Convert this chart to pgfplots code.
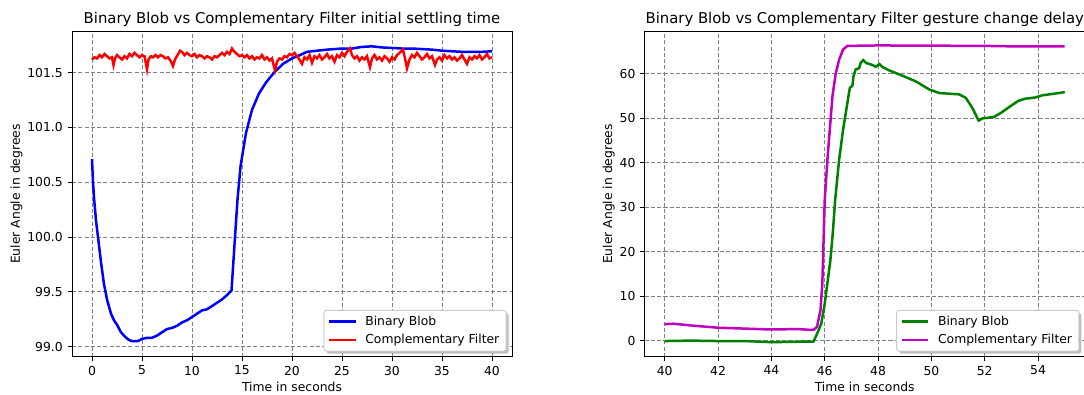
\documentclass[border=0pt]{standalone}
\usepackage{pgfplots}
\pgfplotsset{compat=1.18}
\usepackage{fontspec}
\setmainfont{DejaVu Sans}
\usetikzlibrary{shadows}
\definecolor{mplgreen}{rgb}{0,0.5,0}
\definecolor{mplmag}{rgb}{0.75,0,0.75}
\pgfplotsset{
  mystyle/.style={
    scale only axis, width=316.8pt, height=234.7pt,
    axis line style={line width=0.7pt, black},
    tick align=outside, major tick length=3.1pt,
    tick style={line width=0.7pt, black},
    tick pos=left,
    grid=major,
    grid style={gray, line width=0.7pt, dash pattern=on 3pt off 1.5pt},
    tick label style={font=\fontsize{8.9}{10.7}\selectfont},
    yticklabel style={inner sep=0pt, xshift=-3.4pt},
    xticklabel style={inner sep=0pt, yshift=-3.1pt},
    label style={font=\fontsize{8.9}{10.7}\selectfont},
    xlabel style={at={(axis description cs:0.5,0)}, anchor=base, yshift=-25.2pt},
    title style={font=\fontsize{10.7}{12.8}\selectfont, anchor=base, at={(0.5,1)}, yshift=-0.6pt, inner sep=0pt},
    /pgf/number format/assume math mode=true,
    legend style={at={(1,0)}, anchor=south east, xshift=-3.8pt, yshift=3.8pt,
      font=\fontsize{8.9}{10.7}\selectfont, draw=black!20, line width=0.7pt, rounded corners=2pt, fill=white,
      drop shadow={shadow xshift=1.8pt, shadow yshift=-1.8pt, fill=gray, opacity=0.5},
      inner xsep=3pt, inner ysep=2.5pt, row sep=1.9pt,
      nodes={inner xsep=2pt, inner ysep=1.5pt}},
    legend cell align=left,
    legend image code/.code={\begin{scope}[#1]
      \pgfpathmoveto{\pgfpointorigin}\pgfpathlineto{\pgfpoint{19pt}{0pt}}\pgfusepath{stroke}
      \end{scope}\path (23pt,0pt);},
  }
}
\begin{document}
\begin{tikzpicture}
\useasboundingbox (0,0) rectangle (780.48pt,-283.68pt);
\begin{axis}[mystyle, at={(51.84pt,-22.32pt)}, anchor=north west,
  title={Binary Blob vs Complementary Filter initial settling time},
  xlabel={Time in seconds}, ylabel={Euler Angle in degrees},
  xmin=-2, xmax=42, ymin=98.905, ymax=101.88,
  xtick={0,5,...,40}, ytick={99,99.5,100,100.5,101,101.5},
  yticklabel style={/pgf/number format/.cd, fixed, fixed zerofill, precision=1},
]
\addplot[blue, line width=1.8pt] coordinates {
(0,100.71) (0.1,100.50) (0.22,100.34) (0.4,100.15) (0.6,100.0) (0.9,99.77) (1.2,99.57) (1.5,99.43) (1.9,99.30)
(2.2,99.24) (2.5,99.20) (2.9,99.13) (3.3,99.09) (3.7,99.06) (4.0,99.05) (4.6,99.05) (5.0,99.07)
(5.5,99.08) (6.0,99.08) (6.5,99.10) (7.0,99.13) (7.5,99.16) (8.0,99.17) (8.5,99.19) (9.0,99.22)
(9.5,99.24) (10.0,99.27) (10.5,99.30) (11.0,99.33) (11.5,99.34) (12.0,99.37) (12.5,99.40) (13.0,99.43)
(13.5,99.47) (13.95,99.51) (14.3,100.0) (14.55,100.34) (14.86,100.65) (15.4,100.95) (16.0,101.16)
(16.7,101.31) (17.4,101.41) (18.2,101.50) (19.1,101.58) (20.0,101.63) (20.8,101.66) (21.5,101.69)
(22.5,101.70) (23.5,101.71) (25,101.72) (26,101.72) (27,101.735) (28,101.74) (29,101.73) (30,101.725)
(31,101.72) (32,101.72) (33,101.715) (34,101.71) (35,101.70) (36,101.695) (37,101.69) (38,101.69)
(39,101.69) (40,101.695)
};
\addlegendentry{Binary Blob}
\addplot[red, line width=1.8pt] coordinates {
(0,101.62) (0.25,101.64) (0.5,101.63) (0.75,101.66) (1.0,101.64) (1.25,101.67) (1.5,101.65) (1.75,101.63)
(2.0,101.64) (2.15,101.57) (2.3,101.63) (2.5,101.66) (2.75,101.64) (3.0,101.62) (3.25,101.65) (3.5,101.63)
(3.75,101.67) (4.0,101.65) (4.25,101.68) (4.5,101.66) (4.75,101.64) (5.0,101.66) (5.25,101.65) (5.5,101.53)
(5.65,101.62) (5.9,101.65) (6.1,101.64) (6.35,101.66) (6.6,101.64) (6.85,101.66) (7.1,101.65) (7.35,101.63)
(7.6,101.64) (7.85,101.61) (8.1,101.56) (8.3,101.62) (8.55,101.66) (8.8,101.70) (9.0,101.69) (9.25,101.66)
(9.5,101.68) (9.75,101.66) (10.0,101.65) (10.25,101.67) (10.5,101.64) (10.75,101.66) (11.0,101.65) (11.25,101.63)
(11.5,101.65) (11.75,101.64) (12.0,101.62) (12.25,101.65) (12.5,101.64) (12.75,101.66) (13.0,101.68) (13.25,101.66)
(13.5,101.69) (13.75,101.67) (14.0,101.72) (14.25,101.69) (14.5,101.67) (14.75,101.65) (15.0,101.66) (15.25,101.64)
(15.5,101.66) (15.75,101.63) (16.0,101.65) (16.25,101.62) (16.5,101.64) (16.75,101.63) (17.0,101.66) (17.25,101.62)
(17.5,101.64) (17.75,101.61) (18.0,101.63) (18.3,101.52) (18.5,101.60) (18.75,101.63) (19.0,101.62) (19.25,101.65)
(19.5,101.64) (19.75,101.67) (20.0,101.66) (20.25,101.68) (20.5,101.65) (20.75,101.62) (21.0,101.58) (21.25,101.64)
(21.5,101.62) (21.75,101.66) (22.0,101.59) (22.25,101.65) (22.5,101.63) (22.75,101.66) (23.0,101.62) (23.25,101.64)
(23.5,101.67) (23.75,101.63) (24.0,101.65) (24.25,101.60) (24.5,101.66) (24.75,101.64) (25.0,101.68) (25.25,101.65)
(25.5,101.69) (25.8,101.72) (26.0,101.66) (26.25,101.63) (26.5,101.65) (26.75,101.61) (27.0,101.64) (27.25,101.62)
(27.5,101.65) (27.8,101.55) (28.0,101.63) (28.25,101.66) (28.5,101.62) (28.75,101.64) (29.0,101.61) (29.25,101.65)
(29.5,101.63) (29.75,101.60) (30.0,101.64) (30.25,101.62) (30.5,101.66) (30.75,101.68) (31.1,101.71) (31.3,101.63)
(31.5,101.54) (31.75,101.62) (32.0,101.66) (32.25,101.64) (32.5,101.68) (32.75,101.65) (33.0,101.62) (33.25,101.64)
(33.5,101.67) (33.75,101.63) (34.0,101.65) (34.3,101.57) (34.5,101.62) (34.75,101.64) (35.0,101.61) (35.25,101.66)
(35.5,101.63) (35.75,101.65) (36.0,101.62) (36.25,101.64) (36.5,101.61) (36.75,101.63) (37.0,101.66) (37.25,101.62)
(37.5,101.58) (37.75,101.64) (38.0,101.62) (38.25,101.65) (38.5,101.63) (38.75,101.66) (39.0,101.62) (39.25,101.64)
(39.5,101.67) (39.75,101.63) (40.0,101.64)
};
\addlegendentry{Complementary Filter}
\end{axis}
\begin{axis}[mystyle, at={(464.2pt,-22.32pt)}, anchor=north west,
  title={Binary Blob vs Complementary Filter gesture change delay},
  xlabel={Time in seconds}, ylabel={Euler Angle in degrees},
  xmin=39.25, xmax=55.75, ymin=-3.68, ymax=69.65,
  xtick={40,42,...,54}, ytick={0,10,...,60},
]
\addplot[mplgreen, line width=1.8pt] coordinates {
(40,-0.1) (41,0.0) (42,-0.1) (43,-0.1) (44,-0.35) (45,-0.25) (45.58,-0.2) (45.71,1.5) (45.87,3.8)
(46.0,8.3) (46.1,12.9) (46.21,18.0) (46.3,24.0) (46.39,31.6) (46.54,40.7) (46.69,47.5) (46.85,53.5)
(46.94,56.8) (47.04,57.4) (47.08,59.5) (47.16,61.0) (47.29,61.3) (47.35,62.5) (47.44,63.1) (47.54,62.5)
(47.79,62.0) (47.91,61.6) (48.05,62.2) (48.15,61.6) (48.41,60.8) (48.91,59.6) (49.42,58.3) (49.92,56.5)
(50.29,55.7) (51.04,55.4) (51.29,54.6) (51.54,52.3) (51.77,49.5) (51.92,50.0) (52.08,50.1) (52.34,50.3)
(52.6,51.2) (52.93,52.6) (53.25,53.9) (53.5,54.4) (53.9,54.7) (54.17,55.2) (54.56,55.5) (55.0,55.9)
};
\addlegendentry{Binary Blob}
\addplot[mplmag, line width=1.8pt] coordinates {
(40,3.7) (40.3,3.8) (40.5,3.7) (41,3.4) (42,2.9) (43,2.7) (44,2.5) (45,2.6) (45.5,2.4) (45.6,2.5)
(45.71,3.1) (45.84,6.8) (45.91,12.9) (46.0,31.6) (46.1,40.7) (46.19,47.5) (46.29,55.0) (46.41,60.0)
(46.54,63.2) (46.69,65.5) (46.85,66.3) (48,66.4) (50,66.35) (52,66.3) (53,66.2) (55,66.2)
};
\addlegendentry{Complementary Filter}
\end{axis}
\end{tikzpicture}
\end{document}
